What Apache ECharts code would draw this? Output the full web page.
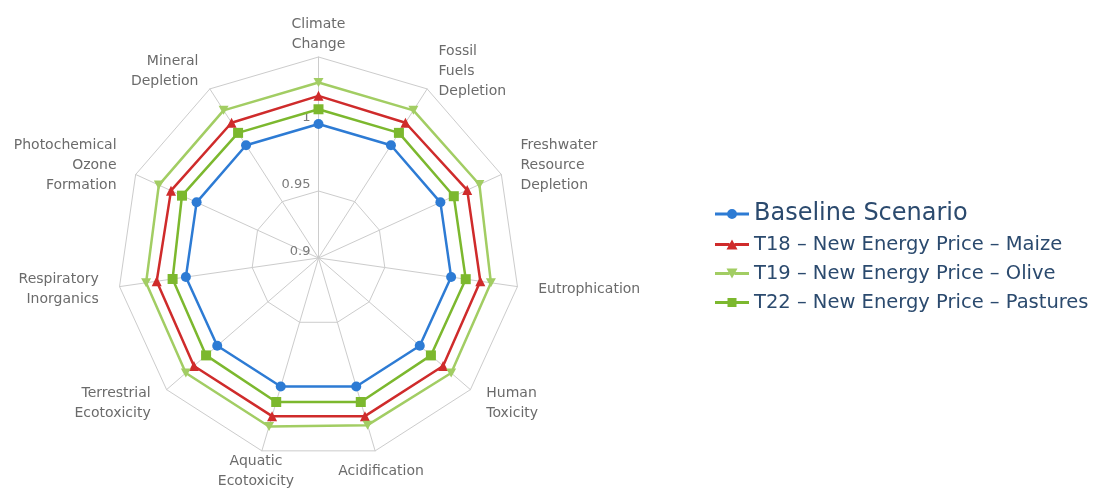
<!DOCTYPE html>
<html>
<head>
<meta charset="utf-8">
<script src="https://cdn.jsdelivr.net/npm/echarts@6/dist/echarts.min.js"></script>
<style>
  html, body { margin: 0; padding: 0; background: #ffffff; }
  #chart { width: 1094px; height: 489px; }
</style>
</head>
<body>
<div id="chart"></div>
<script>
// Impact categories, listed clockwise starting from the top spoke
const categories = [
  'Climate\nChange',
  'Fossil\nFuels\nDepletion',
  'Freshwater\nResource\nDepletion',
  'Eutrophication',
  'Human\nToxicity',
  'Acidification',
  'Aquatic\nEcotoxicity',
  'Terrestrial\nEcotoxicity',
  'Respiratory\nInorganics',
  'Photochemical\nOzone\nFormation',
  'Mineral\nDepletion'
];

// Normalised impact per scenario (baseline = 1)
const baselineScenario = [1, 1, 1, 1, 1, 1, 1, 1, 1, 1, 1];
const t18Maize    = [1.021, 1.020, 1.022, 1.022, 1.023, 1.023, 1.023, 1.023, 1.022, 1.021, 1.020];
const t19Olive    = [1.031, 1.031, 1.032, 1.030, 1.031, 1.030, 1.031, 1.031, 1.030, 1.031, 1.031];
const t22Pastures = [1.011, 1.011, 1.011, 1.011, 1.011, 1.012, 1.012, 1.011, 1.010, 1.012, 1.011];

const seriesNames = [
  'Baseline Scenario',
  'T18 \u2013 New Energy Price \u2013 Maize',
  'T19 \u2013 New Energy Price \u2013 Olive',
  'T22 \u2013 New Energy Price \u2013 Pastures'
];

// Radial scale
const scaleMin = 0.9;
const scaleMax = 1.05;
const radialTicks = ['0.9', '0.95', '1'];

const COLORS = {
  blue: '#2d7bd4',
  red: '#cf2b2b',
  olive: '#a2cd63',
  green: '#7cb82e'
};

// ECharts lays radar indicators out counter-clockwise, so reverse after the first
const n = categories.length;
const order = [0];
for (let i = n - 1; i >= 1; i--) order.push(i);
const pick = arr => order.map(i => arr[i]);

const indicators = order.map((origIdx, pos) => {
  const angle = origIdx * 360 / n;          // clockwise from top
  const ind = { name: categories[origIdx], min: scaleMin, max: scaleMax };
  if (pos === 0) {
    ind.nameGap = 3;
    ind.axisLabel = { show: true };
  }
  if (angle > 150 && angle < 210) {
    ind.nameTextStyle = { align: 'center', verticalAlign: 'middle' };
  }
  return ind;
});

// Legend icons: a short line with the series marker on it
const ICON_CIRCLE   = 'path://M0,4.5L12.2,4.5L12.2,7.5L0,7.5ZM21.8,4.5L34,4.5L34,7.5L21.8,7.5ZM12,6A5,5,0,1,1,22,6A5,5,0,1,1,12,6Z';
const ICON_TRIANGLE = 'path://M0,4.5L14.5,4.5L14.5,7.5L0,7.5ZM19.5,4.5L34,4.5L34,7.5L19.5,7.5ZM17,1L22.5,11L11.5,11Z';
const ICON_TRI_DOWN = 'path://M0,4.5L14.5,4.5L14.5,7.5L0,7.5ZM19.5,4.5L34,4.5L34,7.5L19.5,7.5ZM11.5,1L22.5,1L17,11Z';
const ICON_SQUARE   = 'path://M0,4.5L13,4.5L13,7.5L0,7.5ZM21,4.5L34,4.5L34,7.5L21,7.5ZM12.5,1.5L21.5,1.5L21.5,10.5L12.5,10.5Z';

const SYMBOL_TRI_DOWN = 'path://M0,0L10,0L5,9Z';

const chart = echarts.init(document.getElementById('chart'), null, { renderer: 'canvas' });

const FONT = 'DejaVu Sans, Verdana, sans-serif';

chart.setOption({
  animation: false,
  backgroundColor: '#ffffff',
  legend: {
    orient: 'vertical',
    left: 710,
    top: 197,
    itemWidth: 34,
    itemHeight: 11,
    itemGap: 8,
    selectedMode: false,
    textStyle: { color: '#2b4a6e', fontFamily: FONT, fontSize: 19.5, lineHeight: 21 },
    data: [
      { name: seriesNames[0], icon: ICON_CIRCLE, textStyle: { fontSize: 24, lineHeight: 24 } },
      { name: seriesNames[1], icon: ICON_TRIANGLE },
      { name: seriesNames[2], icon: ICON_TRI_DOWN },
      { name: seriesNames[3], icon: ICON_SQUARE }
    ]
  },
  radar: {
    center: [318.5, 258],
    radius: 201,
    startAngle: 90,
    shape: 'polygon',
    splitNumber: 3,
    nameGap: 21,
    indicator: indicators,
    axisName: {
      color: '#6b6b6b',
      fontFamily: FONT,
      fontSize: 14,
      lineHeight: 20
    },
    axisLine: { lineStyle: { color: '#cccccc', width: 1 } },
    splitLine: { lineStyle: { color: '#cccccc', width: 1 } },
    splitArea: { show: false },
    axisTick: { show: false },
    axisLabel: {
      show: false,
      color: '#7a7a7a',
      fontFamily: FONT,
      fontSize: 13,
      verticalAlign: 'bottom',
      formatter: (value, idx) => (radialTicks[idx] !== undefined ? radialTicks[idx] : '')
    }
  },
  series: [{
    type: 'radar',
    symbolSize: 9,
    lineStyle: { width: 2.5 },
    data: [
      {
        name: seriesNames[0], value: pick(baselineScenario), symbol: 'circle', symbolSize: 10,
        itemStyle: { color: COLORS.blue }, lineStyle: { color: COLORS.blue, width: 2.5 }
      },
      {
        name: seriesNames[1], value: pick(t18Maize), symbol: 'triangle', symbolSize: 10,
        itemStyle: { color: COLORS.red }, lineStyle: { color: COLORS.red, width: 2.5 }
      },
      {
        name: seriesNames[2], value: pick(t19Olive), symbol: SYMBOL_TRI_DOWN, symbolSize: [10, 9],
        itemStyle: { color: COLORS.olive }, lineStyle: { color: COLORS.olive, width: 2.5 }
      },
      {
        name: seriesNames[3], value: pick(t22Pastures), symbol: 'rect', symbolSize: 10,
        itemStyle: { color: COLORS.green }, lineStyle: { color: COLORS.green, width: 2.5 }
      }
    ]
  }]
});
</script>
</body>
</html>
